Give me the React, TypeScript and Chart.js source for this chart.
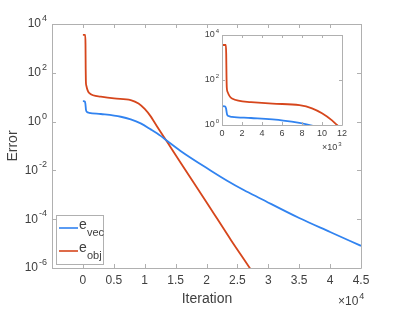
import React, { useEffect, useRef } from "react";
import { Chart, registerables } from "chart.js";

Chart.register(...registerables);

// ---- Data (iterations, error) ----
const vecIter = [0, 300, 400, 500, 650, 1000, 2900, 6130, 7740, 9350, 10970, 12580, 13660, 15800, 20650, 23340, 26020, 28710, 35000, 40000, 45000];
const vecErr = [6.9, 6.8, 5.5, 3.0, 2.5, 2.3, 2.05, 1.58, 1.24, 0.85, 0.48, 0.26, 0.16, 0.063, 0.01, 3.8e-3, 1.58e-3, 7.1e-4, 1.12e-4, 3.0e-5, 8.1e-6];

const objIter = [0, 380, 420, 450, 480, 550, 1000, 2900, 5050, 7740, 9000, 10000, 11000, 11500, 12000, 13700, 16000, 20000, 24000, 27000, 28000];
const objErr = [3600, 3600, 1500, 150, 45, 30, 15, 10.5, 8.9, 7.6, 5.5, 3.3, 1.6, 1.0, 0.63, 0.138, 0.0174, 5e-4, 1.35e-5, 1e-6, 4e-7];

const mainXTicks = [0, 5000, 10000, 15000, 20000, 25000, 30000, 35000, 40000, 45000];
const mainXLabels = ["0", "0.5", "1", "1.5", "2", "2.5", "3", "3.5", "4", "4.5"];
const mainYExps = [4, 2, 0, -2, -4, -6];

const insetXTicks = [0, 2000, 4000, 6000, 8000, 10000, 12000];
const insetXLabels = ["0", "2", "4", "6", "8", "10", "12"];
const insetYExps = [4, 2, 0];

const seriesNames = ["vec", "obj"];
const BLUE = "#3183f0";
const RED = "#d6461c";
const TEXT = "#404040";
const AXIS = "#b0b0b0";
const FONT = "'Liberation Sans', 'DejaVu Sans', sans-serif";

function pts(xs: number[], ys: number[]) {
  return xs.map((x, i) => ({ x, y: ys[i] }));
}

function drawPow(ctx: CanvasRenderingContext2D, base: string, exp: string, x: number, y: number, size: number, align: "right" | "center" | "left") {
  ctx.font = `${size}px ${FONT}`;
  const bw = ctx.measureText(base).width;
  ctx.font = `${Math.round(size * 0.72)}px ${FONT}`;
  const ew = ctx.measureText(exp).width;
  const total = bw + 1 + ew;
  let x0 = x;
  if (align === "right") x0 = x - total;
  else if (align === "center") x0 = x - total / 2;
  ctx.textAlign = "left";
  ctx.textBaseline = "middle";
  ctx.font = `${size}px ${FONT}`;
  ctx.fillText(base, x0, y);
  ctx.font = `${Math.round(size * 0.72)}px ${FONT}`;
  ctx.fillText(exp, x0 + bw + 1, y - size * 0.45);
}

function axesPlugin(opts: { xTicks: number[]; xLabels: string[]; yExps: number[]; fs: number; tick: number; mult: string; multPos: [number, number]; isMain: boolean }) {
  return {
    id: "axesDeco",
    beforeDatasetsDraw(chart: any) {
      const { ctx, chartArea: a } = chart;
      ctx.save();
      ctx.fillStyle = "#ffffff";
      ctx.fillRect(a.left, a.top, a.right - a.left, a.bottom - a.top);
      ctx.restore();
    },
    afterDatasetsDraw(chart: any) {
      const { ctx, chartArea: a, scales } = chart;
      const xs = scales.x, ys = scales.y;
      ctx.save();
      ctx.strokeStyle = AXIS;
      ctx.lineWidth = 1;
      ctx.beginPath();
      ctx.rect(Math.round(a.left) + 0.5, Math.round(a.top) + 0.5, Math.round(a.right - a.left), Math.round(a.bottom - a.top));
      ctx.stroke();
      ctx.beginPath();
      for (const v of opts.xTicks) {
        const px = Math.round(xs.getPixelForValue(v)) + 0.5;
        ctx.moveTo(px, a.bottom); ctx.lineTo(px, a.bottom - opts.tick);
        ctx.moveTo(px, a.top); ctx.lineTo(px, a.top + opts.tick);
      }
      for (const e of opts.yExps) {
        const py = Math.round(ys.getPixelForValue(Math.pow(10, e))) + 0.5;
        ctx.moveTo(a.left, py); ctx.lineTo(a.left + opts.tick, py);
        ctx.moveTo(a.right, py); ctx.lineTo(a.right - opts.tick, py);
      }
      ctx.stroke();
      ctx.fillStyle = TEXT;
      opts.xTicks.forEach((v, i) => {
        ctx.font = `${opts.fs}px ${FONT}`;
        ctx.textAlign = "center";
        ctx.textBaseline = "top";
        ctx.fillText(opts.xLabels[i], xs.getPixelForValue(v), a.bottom + (opts.isMain ? 7 : 4));
      });
      for (const e of opts.yExps) {
        drawPow(ctx, "10", String(e), a.left - (opts.isMain ? 5 : 3), ys.getPixelForValue(Math.pow(10, e)), opts.fs, "right");
      }
      drawPow(ctx, "\u00d710", opts.mult, opts.multPos[0], opts.multPos[1], opts.fs, "left");
      ctx.restore();
    },
  };
}

const legendPlugin = {
  id: "subLegend",
  afterDraw(chart: any) {
    const { ctx } = chart;
    ctx.save();
    ctx.fillStyle = "#ffffff";
    ctx.fillRect(56, 215, 47, 49);
    ctx.strokeStyle = AXIS;
    ctx.lineWidth = 1;
    ctx.strokeRect(56.5, 215.5, 47, 49);
    const colors = [BLUE, RED];
    const ys = [228, 251];
    seriesNames.forEach((n, i) => {
      ctx.strokeStyle = colors[i];
      ctx.lineWidth = 1.6;
      ctx.beginPath();
      ctx.moveTo(59, ys[i]);
      ctx.lineTo(78, ys[i]);
      ctx.stroke();
      ctx.fillStyle = TEXT;
      ctx.textAlign = "left";
      ctx.textBaseline = "middle";
      ctx.font = `14px ${FONT}`;
      ctx.fillText("e", 79, ys[i] - 3);
      ctx.font = `11px ${FONT}`;
      ctx.fillText(n, 87, ys[i] + 5);
    });
    // axis titles
    ctx.fillStyle = TEXT;
    ctx.font = `14px ${FONT}`;
    ctx.textAlign = "center";
    ctx.textBaseline = "middle";
    ctx.fillText("Iteration", 207, 299);
    ctx.translate(13, 146);
    ctx.rotate(-Math.PI / 2);
    ctx.fillText("Error", 0, 0);
    ctx.restore();
  },
};

function baseOptions(xmin: number, xmax: number, ymin: number, ymax: number, pad: any) {
  return {
    responsive: false,
    animation: false as const,
    layout: { padding: pad },
    plugins: { legend: { display: false }, tooltip: { enabled: false } },
    elements: { point: { radius: 0 }, line: { cubicInterpolationMode: "monotone", borderWidth: 1.8 } },
    scales: {
      x: { type: "linear" as const, min: xmin, max: xmax, display: false },
      y: { type: "logarithmic" as const, min: ymin, max: ymax, display: false },
    },
  };
}

export default function App() {
  const mainRef = useRef<HTMLCanvasElement>(null);
  const insetRef = useRef<HTMLCanvasElement>(null);

  useEffect(() => {
    const main = new Chart(mainRef.current!, {
      type: "line",
      data: {
        datasets: [
          { data: pts(vecIter, vecErr), borderColor: BLUE, fill: false },
          { data: pts(objIter, objErr), borderColor: RED, fill: false },
        ],
      },
      options: baseOptions(-5000, 45000, 1e-6, 1e4, { left: 52, top: 24, right: 38, bottom: 43 }) as any,
      plugins: [
        axesPlugin({ xTicks: mainXTicks, xLabels: mainXLabels, yExps: mainYExps, fs: 12, tick: 4, mult: "4", multPos: [338, 302], isMain: true }),
        legendPlugin,
      ],
    });
    const inset = new Chart(insetRef.current!, {
      type: "line",
      data: {
        datasets: [
          { data: pts(vecIter, vecErr), borderColor: BLUE, fill: false },
          { data: pts(objIter, objErr), borderColor: RED, fill: false },
        ],
      },
      options: baseOptions(0, 12000, 1, 1e4, { left: 32, top: 10, right: 18, bottom: 35 }) as any,
      plugins: [
        axesPlugin({ xTicks: insetXTicks, xLabels: insetXLabels, yExps: insetYExps, fs: 9, tick: 3, mult: "3", multPos: [132, 123], isMain: false }),
      ],
    });
    return () => {
      main.destroy();
      inset.destroy();
    };
  }, []);

  return (
    <div style={{ position: "fixed", left: 0, top: 0, width: 399, height: 311, background: "#fff" }}>
      <canvas ref={mainRef} width={399} height={311} style={{ position: "absolute", left: 0, top: 0 }} />
      <canvas ref={insetRef} width={170} height={135} style={{ position: "absolute", left: 190, top: 25 }} />
    </div>
  );
}
